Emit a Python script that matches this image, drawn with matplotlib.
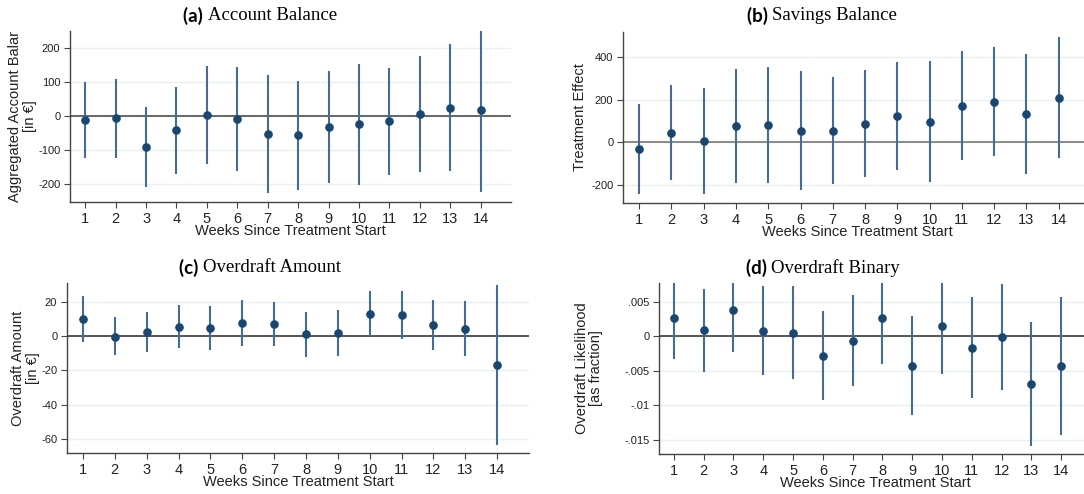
"""Event-study style coefficient plots: treatment effect by week since start."""
import matplotlib
matplotlib.use("Agg")
import matplotlib.pyplot as plt
import numpy as np

weeks = np.arange(1, 15)

# (a) Account balance
acc_est = [-12, -7, -90, -41, 2, -8, -54, -57, -32, -25, -16, 6, 23, 19]
acc_lo = [-125, -123, -209, -170, -142, -162, -227, -218, -197, -204, -174, -166, -163, -225]
acc_hi = [101, 109, 27, 85, 147, 145, 121, 103, 133, 154, 141, 177, 211, 263]

# (b) Savings balance
sav_est = [-33, 46, 6, 76, 80, 55, 55, 85, 123, 94, 170, 191, 132, 208]
sav_lo = [-244, -175, -241, -190, -190, -224, -195, -162, -129, -186, -83, -62, -146, -74]
sav_hi = [180, 269, 255, 342, 351, 335, 307, 337, 378, 380, 427, 445, 413, 494]

# (c) Overdraft amount
od_est = [9.8, -0.4, 2.3, 5.4, 4.8, 7.5, 7.1, 1.0, 1.5, 12.9, 12.1, 6.3, 4.2, -16.7]
od_lo = [-3.3, -11.3, -9.4, -6.7, -8.1, -5.8, -5.6, -12.1, -11.7, 0.0, -1.9, -8.1, -11.7, -63.2]
od_hi = [23.0, 10.8, 14.0, 17.9, 17.5, 21.0, 20.0, 14.0, 15.2, 26.3, 26.3, 21.2, 20.4, 29.8]

# (d) Overdraft binary
bin_est = [0.00261, 0.00082, 0.00382, 0.00077, 0.00044, -0.0029, -0.00073,
           0.00266, -0.00431, 0.0015, -0.00175, -0.00018, -0.00698, -0.00434]
bin_lo = [-0.00334, -0.00518, -0.00232, -0.00561, -0.00629, -0.00934, -0.00731,
          -0.00411, -0.01147, -0.00557, -0.00902, -0.00785, -0.01592, -0.01428]
bin_hi = [0.00856, 0.00687, 0.00996, 0.00726, 0.00726, 0.00363, 0.0059,
          0.00943, 0.0029, 0.0086, 0.0056, 0.0075, 0.00204, 0.0057]

W, H = 1084, 494
NAVY = "#1a476f"
BAR = "#456d93"
GRID = "#e9f1f2"
TXT = "#222222"

plt.rcParams["font.family"] = ["Liberation Sans", "DejaVu Sans"]

fig = plt.figure(figsize=(W / 100, H / 100), dpi=100)


def px_axes(left, top, right, bottom):
    return fig.add_axes([left / W, 1 - bottom / H, (right - left) / W, (bottom - top) / H])


def panel(ax, est, lo, hi, ylim, yticks, yticklabels, ylabel, zero_color, pad=3):
    ax.set_xlim(0.5, 15)
    ax.set_ylim(*ylim)
    for t in yticks:
        ax.axhline(t, color=GRID, lw=1, zorder=0)
    ax.axhline(0, color=zero_color, lw=1.4, zorder=1)
    ax.vlines(weeks, lo, hi, color=BAR, lw=1.5, zorder=2)
    ax.plot(weeks, est, "o", ms=5.2, color=NAVY, zorder=3)
    ax.set_xticks(weeks)
    ax.set_xticklabels([str(w) for w in weeks], fontsize=10.5, color=TXT)
    ax.set_yticks(yticks)
    ax.set_yticklabels(yticklabels, fontsize=8, color=TXT)
    for s in ["top", "right"]:
        ax.spines[s].set_visible(False)
    for s in ["left", "bottom"]:
        ax.spines[s].set_color("#444444")
        ax.spines[s].set_linewidth(1.0)
    ax.tick_params(direction="out", length=4, width=0.8, color="#444444", pad=3)
    ax.set_xlabel("Weeks Since Treatment Start", fontsize=10.5, color=TXT, labelpad=-1)
    ax.set_ylabel(ylabel, fontsize=10.5, color=TXT, linespacing=1.05, labelpad=pad)


ax_a = px_axes(70, 31, 511, 202)
panel(ax_a, acc_est, acc_lo, acc_hi, (-253, 250), [-200, -100, 0, 100, 200],
      ["-200", "-100", "0", "100", "200"], "Aggregated Account Balar\n[in €]", "#666666", pad=1)

ax_b = px_axes(623, 32, 1091, 203)
panel(ax_b, sav_est, sav_lo, sav_hi, (-284, 517), [-200, 0, 200, 400],
      ["-200", "0", "200", "400"], "Treatment Effect", "#8a8a8a")

ax_c = px_axes(67, 283, 529, 453)
panel(ax_c, od_est, od_lo, od_hi, (-68, 30.8), [-60, -40, -20, 0, 20],
      ["-60", "-40", "-20", "0", "20"], "Overdraft Amount\n[in €]", "#555555", pad=1)

ax_d = px_axes(659, 283, 1091, 454)
panel(ax_d, bin_est, bin_lo, bin_hi, (-0.0171, 0.0077),
      [-0.015, -0.01, -0.005, 0, 0.005],
      ["-.015", "-.01", "-.005", "0", ".005"], "Overdraft Likelihood\n[as fraction]", "#555555",
      pad=15)

titles = [("(a)", "Account Balance", 260, 16),
          ("(b)", "Savings Balance", 822, 16),
          ("(c)", "Overdraft Amount", 260, 268),
          ("(d)", "Overdraft Binary", 823, 268)]
r = fig.canvas.get_renderer()
for tag, name, cx, cy in titles:
    t1 = fig.text(0, 0, tag + " ", fontsize=13.5, fontweight="bold", family="Lato")
    t2 = fig.text(0, 0, name, fontsize=13.5, family="Liberation Serif")
    w1 = t1.get_window_extent(r).width
    w2 = t2.get_window_extent(r).width
    x0 = cx - (w1 + w2) / 2
    t1.set_position((x0 / W, 1 - cy / H))
    t1.set_va("center")
    t2.set_position(((x0 + w1) / W, 1 - cy / H))
    t2.set_va("center")

fig.savefig("out.png", dpi=100)
